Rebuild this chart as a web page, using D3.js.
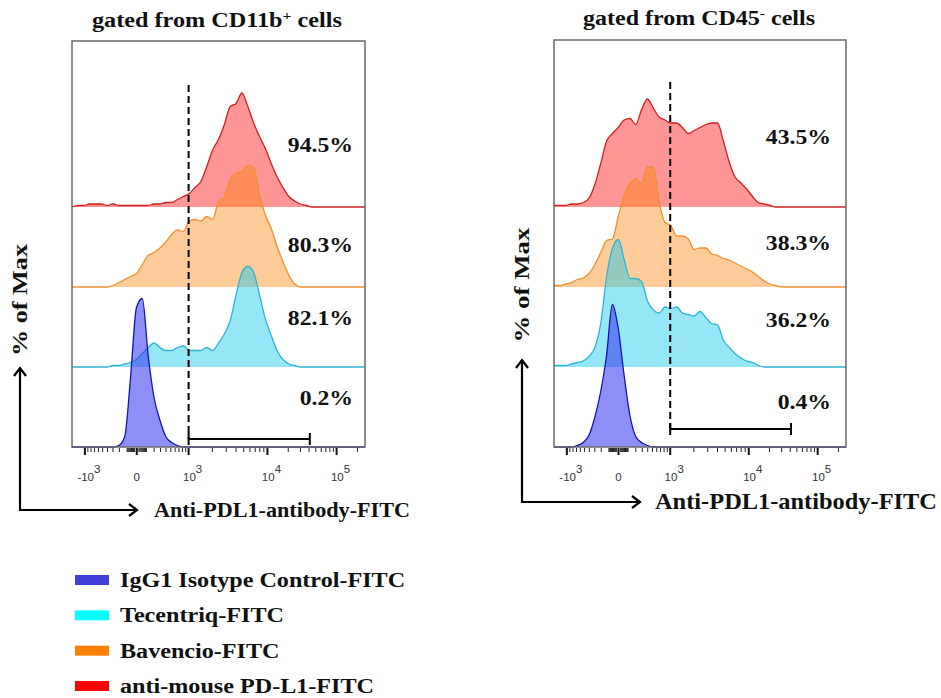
<!DOCTYPE html>
<html>
<head>
<meta charset="utf-8">
<script src="https://cdn.jsdelivr.net/npm/d3@7/dist/d3.min.js"></script>
<style>
    body { margin: 0; background: #fff; }
    svg text { font-family: "Liberation Serif", "Times New Roman", serif; font-weight: bold; fill: #111; }
    svg text.tick-label { font-family: "Liberation Sans", Arial, sans-serif; font-weight: normal; font-size: 11.5px; fill: #333; }
</style>
</head>
<body>
<svg id="chart" width="941" height="698"></svg>
<script>
// histogram bins: display channel 0..1000, one value every 20 channels (51 bins), height in % of max
var channels = d3.range(0, 1001, 20);

var cd11bIsotype = [0,0,0,0,0,0,0,0,1,7, 47,93,99,61,33,18,7,3,1,0,
    0,0,0,0,0,0,0,0,0,0, 0,0,0,0,0,0,0,0,0,0, 0,0,0,0,0,0,0,0,0,0, 0];
var cd11bTecentriq = [0,0,0,0,0,0,0,1,1,2, 3,5,9,13,16,13,11,11,13,14,
    11,11,11,13,11,16,22,31,48,63, 67,63,48,32,21,11,5,2,1,0, 0,0,0,0,0,0,0,0,0,0, 0];
var cd11bBavencio = [0,0,0,0,0,0,0,1,3,5, 7,9,15,21,23,26,30,35,38,37,
    44,45,44,47,45,57,60,72,76,77, 81,80,61,48,39,27,17,8,2,0, 0,0,0,0,0,0,0,0,0,0, 0];
var cd11bAntiMouse = [0,1,1,2,2,2,1,2,1,1, 1,1,1,1,2,2,3,3,5,7,
    9,13,17,27,38,45,55,67,69,76, 67,56,47,39,29,20,13,7,4,2, 1,0,0,0,0,0,0,0,0,0, 0];

var cd45Isotype = [0,0,0,0,1,3,8,20,37,61, 95,79,48,21,7,3,1,0,0,0,
    0,0,0,0,0,0,0,0,0,0, 0,0,0,0,0,0,0,0,0,0, 0,0,0,0,0,0,0,0,0,0, 0];
var cd45Tecentriq = [1,1,1,2,3,4,7,13,29,60, 79,85,72,59,59,57,44,38,36,40,
    39,40,36,35,34,37,33,29,28,18, 13,9,6,4,3,1,0,0,0,0, 0,0,0,0,0,0,0,0,0,0, 0];
var cd45Bavencio = [1,1,2,3,5,6,9,15,23,31, 32,47,61,69,72,69,80,80,57,43,
    41,34,34,32,25,26,26,22,21,19, 18,16,14,12,10,7,4,2,1,0, 0,0,0,0,0,0,0,0,0,0, 0];
var cd45AntiMouse = [1,1,1,2,2,3,6,15,29,44, 49,53,58,59,55,65,72,66,60,58,
    56,56,53,49,51,53,55,56,56,44, 30,20,16,12,7,3,2,1,0,0, 0,0,0,0,0,0,0,0,0,0, 0];

var seriesNames = ["IgG1 Isotype Control-FITC", "Tecentriq-FITC", "Bavencio-FITC", "anti-mouse PD-L1-FITC"];
var cd11bPercent = ["0.2%", "82.1%", "80.3%", "94.5%"];
var cd45Percent = ["0.4%", "36.2%", "38.3%", "43.5%"];

var majorTicks = [-1000, 0, 1000, 10000, 100000];
var tickBases = ["-10", "0", "10", "10", "10"];
var tickExps = ["3", "", "3", "4", "5"];
var gateRange = [1000, 41000];

// colours
var legendColors = ["#4040d8", "#00ffff", "#ff8000", "#ff0000"];
var fillColors = ["rgba(50,50,240,0.55)", "rgba(20,200,235,0.45)", "rgba(255,128,0,0.4)", "rgba(255,20,20,0.45)"];
var lineColors = ["#1414b4", "#2cb4d4", "#f09030", "#d02020"];

// the figure text is a little wider than plain Times
var STRETCH = 1.13;

var svg = d3.select("#chart");

// biexponential-like display: linear-ish around 0, log above 10^3
var linPart = d3.scaleSymlog().constant(350).domain([-1000, 1000]).range([44, 398]);
var logPart = d3.scaleLog().domain([1e3, 1e4, 1e5]).range([398, 667, 903]);
function toChannel(v) {
    return v <= 1000 ? linPart(v) : logPart(v);
}

var minorTicks = [];
[1, 10, 100].forEach(function(m) {
    d3.range(1, 10).forEach(function(k) {
        if (m === 1 && k === 1) return;
        minorTicks.push(k * m * 10, -k * m * 10);
    });
});
minorTicks = minorTicks.filter(function(v) { return Math.abs(v) < 1000; });
[1000, 10000, 100000].forEach(function(m) {
    d3.range(2, 10).forEach(function(k) {
        if (k * m <= 250000) minorTicks.push(k * m);
    });
});

var panels = [
    {
        title: "gated from CD11b", sup: "+", titleX: 217, titleY: 27, titleLen: 250,
        left: 72, right: 365, top: 41, bottom: 447,
        series: [cd11bIsotype, cd11bTecentriq, cd11bBavencio, cd11bAntiMouse],
        percent: cd11bPercent, pctX: 353, pctLift: [42, 42, 35, 55],
        dashTop: 85, barY: 439,
        arrowX: 20, arrowY: 510, arrowTop: 368, arrowRight: 137,
        yLabelY: 300, yLabelLen: 112,
        xLabelX: 154, xLabelSize: 21, xLabelLen: 256
    },
    {
        title: "gated from CD45", sup: "-", titleX: 699, titleY: 25, titleLen: 232,
        left: 554, right: 846, top: 40, bottom: 447,
        series: [cd45Isotype, cd45Tecentriq, cd45Bavencio, cd45AntiMouse],
        percent: cd45Percent, pctX: 831, pctLift: [38, 40, 37, 63],
        dashTop: 82, barY: 429,
        arrowX: 522, arrowY: 502, arrowTop: 360, arrowRight: 640,
        yLabelY: 285, yLabelLen: 115,
        xLabelX: 655, xLabelSize: 23, xLabelLen: 282
    }
];

panels.forEach(drawPanel);

function drawPanel(p) {
    var g = svg.append("g");

    var x = d3.scaleLinear().domain([0, 1000]).range([p.left, p.right]);
    var layer = d3.scalePoint().domain(d3.range(4)).range([p.bottom, p.bottom - 240]);
    var h = d3.scaleLinear().domain([0, 100]).range([0, 150]);

    // title
    var title = g.append("text")
        .attr("x", p.titleX)
        .attr("y", p.titleY)
        .attr("text-anchor", "middle")
        .attr("font-size", 20)
        .attr("textLength", p.titleLen)
        .attr("lengthAdjust", "spacingAndGlyphs");
    title.append("tspan").text(p.title);
    title.append("tspan").attr("font-size", 13).attr("dy", -7).text(p.sup);
    title.append("tspan").attr("font-size", 20).attr("dy", 7).text(" cells");

    // histograms, top layer first so lower ones overlap
    d3.range(3, -1, -1).forEach(function(i) {
        var base = layer(i);
        var pts = p.series[i].map(function(v, j) { return [channels[j], v]; });

        var area = d3.area()
            .curve(d3.curveMonotoneX)
            .x(function(d) { return x(d[0]); })
            .y0(base)
            .y1(function(d) { return base - h(d[1]); });
        var line = area.lineY1();

        g.append("path")
            .datum(pts)
            .attr("d", area)
            .style("fill", fillColors[i]);

        g.append("path")
            .datum(pts)
            .attr("d", line)
            .style("fill", "none")
            .style("stroke", lineColors[i])
            .style("stroke-width", 1.3);

        g.append("text")
            .attr("transform", "translate(" + p.pctX + "," + (base - p.pctLift[i]) + ") scale(" + STRETCH + ",1)")
            .attr("text-anchor", "end")
            .attr("font-size", 21)
            .text(p.percent[i]);
    });

    // frame
    g.append("rect")
        .attr("x", p.left)
        .attr("y", p.top)
        .attr("width", p.right - p.left)
        .attr("height", p.bottom - p.top)
        .style("fill", "none")
        .style("stroke", "#6a6a6a")
        .style("stroke-width", 1.5);

    // ticks
    g.selectAll(".minor")
        .data(minorTicks)
        .enter().append("line")
        .attr("x1", function(d) { return x(toChannel(d)); })
        .attr("x2", function(d) { return x(toChannel(d)); })
        .attr("y1", p.bottom + 1)
        .attr("y2", p.bottom + 5)
        .style("stroke", "#222")
        .style("stroke-width", 1);

    g.selectAll(".major")
        .data(majorTicks)
        .enter().append("line")
        .attr("x1", function(d) { return x(toChannel(d)); })
        .attr("x2", function(d) { return x(toChannel(d)); })
        .attr("y1", p.bottom + 1)
        .attr("y2", p.bottom + 8)
        .style("stroke", "#111")
        .style("stroke-width", 2);

    majorTicks.forEach(function(v, i) {
        var t = g.append("text")
            .attr("class", "tick-label")
            .attr("x", x(toChannel(v)) + (tickExps[i] ? 4 : 0))
            .attr("y", p.bottom + 34)
            .attr("text-anchor", "middle");
        t.append("tspan").text(tickBases[i]);
        if (tickExps[i]) {
            t.append("tspan").attr("dy", -8).text(tickExps[i]);
        }
    });

    // gate
    var gx0 = x(toChannel(gateRange[0])),
        gx1 = x(toChannel(gateRange[1]));

    g.append("line")
        .attr("x1", gx0).attr("x2", gx0)
        .attr("y1", p.dashTop).attr("y2", p.barY)
        .style("stroke", "#000")
        .style("stroke-width", 2)
        .style("stroke-dasharray", "7,4");

    g.append("line")
        .attr("x1", gx0).attr("x2", gx1)
        .attr("y1", p.barY).attr("y2", p.barY)
        .style("stroke", "#000")
        .style("stroke-width", 2);

    [gx0, gx1].forEach(function(cx) {
        g.append("line")
            .attr("x1", cx).attr("x2", cx)
            .attr("y1", p.barY - 6).attr("y2", p.barY + 6)
            .style("stroke", "#000")
            .style("stroke-width", 2);
    });

    // axis arrows
    g.append("path")
        .attr("d", "M" + p.arrowX + "," + p.arrowTop + "V" + p.arrowY + "H" + p.arrowRight)
        .style("fill", "none")
        .style("stroke", "#000")
        .style("stroke-width", 2.2);
    g.append("path")
        .attr("d", "M" + (p.arrowX - 6) + "," + (p.arrowTop + 8) + "L" + p.arrowX + "," + p.arrowTop + "L" + (p.arrowX + 6) + "," + (p.arrowTop + 8))
        .style("fill", "none")
        .style("stroke", "#000")
        .style("stroke-width", 2.2);
    g.append("path")
        .attr("d", "M" + (p.arrowRight - 8) + "," + (p.arrowY - 6) + "L" + p.arrowRight + "," + p.arrowY + "L" + (p.arrowRight - 8) + "," + (p.arrowY + 6))
        .style("fill", "none")
        .style("stroke", "#000")
        .style("stroke-width", 2.2);

    g.append("text")
        .attr("transform", "translate(" + (p.arrowX + 7) + "," + p.yLabelY + ") rotate(-90)")
        .attr("text-anchor", "middle")
        .attr("font-size", 21)
        .attr("textLength", p.yLabelLen)
        .attr("lengthAdjust", "spacingAndGlyphs")
        .text("% of  Max");

    g.append("text")
        .attr("x", p.xLabelX)
        .attr("y", p.arrowY + 7)
        .attr("font-size", p.xLabelSize)
        .attr("textLength", p.xLabelLen)
        .attr("lengthAdjust", "spacingAndGlyphs")
        .text("Anti-PDL1-antibody-FITC");
}

// legend
var legendY = d3.scalePoint().domain(seriesNames).range([580, 686]);

var legend = svg.append("g");
seriesNames.forEach(function(name, i) {
    legend.append("rect")
        .attr("x", 75)
        .attr("y", legendY(name) - 5)
        .attr("width", 34)
        .attr("height", 10)
        .style("fill", legendColors[i]);
    legend.append("text")
        .attr("transform", "translate(120," + (legendY(name) + 7) + ") scale(" + (STRETCH + 0.02) + ",1)")
        .attr("font-size", 21)
        .text(name);
});
</script>
</body>
</html>
